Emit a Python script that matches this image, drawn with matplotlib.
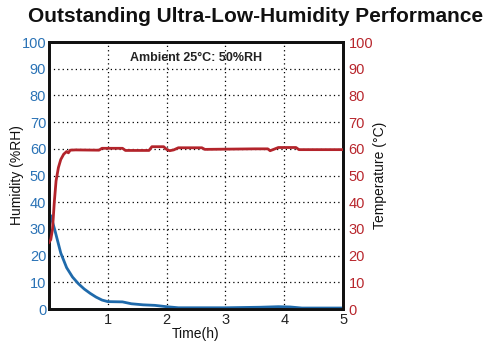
import matplotlib.pyplot as plt

plt.rcParams['font.family'] = ['Liberation Sans', 'DejaVu Sans']

# humidity curve (%RH) vs time (h)
humTime = [0.0, 0.03, 0.1, 0.2, 0.3, 0.4, 0.5, 0.6, 0.7, 0.8, 0.9, 1.0, 1.25, 1.4,
           1.6, 1.8, 2.0, 2.2, 3.0, 3.6, 3.9, 4.1, 4.3, 5.0]
humidity = [33, 35, 29.5, 21, 15.5, 12, 9.5, 7.5, 5.9, 4.5, 3.4, 2.8, 2.7, 2.0,
            1.6, 1.4, 0.9, 0.5, 0.5, 0.7, 0.9, 0.8, 0.4, 0.4]

# temperature curve (C) vs time (h)
tempTime = [0.0, 0.03, 0.06, 0.09, 0.12, 0.16, 0.2, 0.25, 0.3, 0.33, 0.36, 0.45,
            0.85, 0.9, 1.25, 1.3, 1.7, 1.75, 1.95, 2.0, 2.05, 2.12, 2.2, 2.6,
            2.65, 3.5, 3.72, 3.76, 3.82, 3.9, 4.2, 4.25, 5.0]
temperature = [25, 26, 30, 40, 48, 53, 56, 58, 59, 58.5, 59.5, 59.6,
               59.5, 60.2, 60.2, 59.4, 59.4, 60.8, 60.8, 59.8, 59.3, 59.6, 60.4, 60.4,
               59.8, 60.0, 60.0, 59.3, 59.8, 60.5, 60.5, 59.7, 59.7]

xTicks = [1, 2, 3, 4, 5]
yTicks = list(range(0, 101, 10))

blueColor = '#1f6aab'
redColor = '#b3242b'
blueText = '#2b73b6'
redText = '#b8262d'

fig = plt.figure(figsize=(4.92, 3.59), dpi=100)
ax = fig.add_axes([0.0996, 0.139, 0.5976, 0.744])
ax2 = ax.twinx()

ax.plot(humTime, humidity, color=blueColor, linewidth=2, zorder=3)
ax2.plot(tempTime, temperature, color=redColor, linewidth=2, zorder=3)

ax.set_xlim(0, 5)
ax.set_ylim(0, 100)
ax2.set_ylim(0, 100)
ax.set_xticks(xTicks)
ax.set_yticks(yTicks)
ax2.set_yticks(yTicks)

ax.grid(True, color='black', linestyle=(0, (1, 2.5)), linewidth=0.9)
ax.tick_params(axis='both', length=0, labelsize=10.5)
ax.tick_params(axis='y', colors=blueText, pad=2)
ax.tick_params(axis='x', colors='#222222', pad=3)
ax2.tick_params(axis='y', length=0, labelsize=10.5, colors=redText, pad=4)

for spine in list(ax.spines.values()) + list(ax2.spines.values()):
    spine.set_linewidth(2)
    spine.set_color('#111111')

ax.set_ylabel('Humidity (%RH)', fontsize=10, color='#111111', labelpad=-2)
ax2.set_ylabel('Temperature (°C)', fontsize=10, color='#111111', labelpad=0)
ax.set_xlabel('Time(h)', fontsize=10, color='#111111', labelpad=0)

ax.text(0.5, 0.94, 'Ambient 25°C: 50%RH', transform=ax.transAxes, ha='center', va='center',
        fontsize=9, fontweight='bold', color='#222222', zorder=5)

fig.text(0.52, 0.955, 'Outstanding Ultra-Low-Humidity Performance', ha='center', va='center',
         fontsize=15, fontweight='bold', color='#111111')

fig.savefig('out.png', dpi=100)
